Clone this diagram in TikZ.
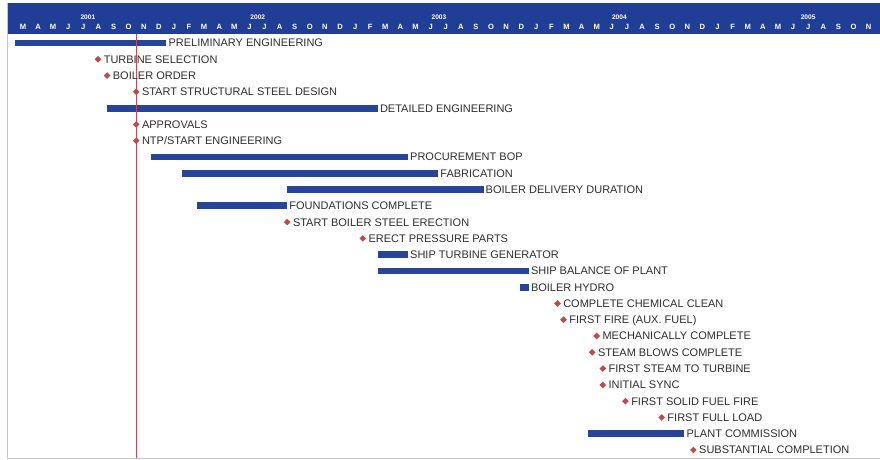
\documentclass[tikz,border=0pt]{standalone}
\usepackage{fontspec}
\setmainfont{Liberation Sans}
\usepackage{xcolor}
\usetikzlibrary{positioning,shapes.geometric}
\definecolor{hdrblue}{RGB}{32,62,150}
\definecolor{barblue}{RGB}{38,68,152}
\definecolor{msred}{RGB}{190,75,70}
\definecolor{nowred}{RGB}{205,70,85}
\definecolor{lblgray}{RGB}{45,45,45}

\begin{document}
\begin{tikzpicture}[x=1pt,y=-1pt,
  lbl/.style={anchor=west,inner sep=2pt,text=lblgray,font=\fontsize{11}{12}\selectfont,text height=7.9pt,text depth=0pt},
  ms/.style={diamond,fill=msred,inner sep=0pt,minimum size=6.8pt},
  mon/.style={text=white,font=\bfseries\fontsize{7.6}{8}\selectfont,inner sep=0pt},
  yr/.style={text=white,font=\bfseries\fontsize{6.6}{7}\selectfont,inner sep=0pt}]
  \useasboundingbox (0,0) rectangle (880,460);
  \fill[hdrblue] (7,3) rectangle (880,34);
  \draw[gray!45,line width=0.8pt] (7,3) -- (7,458) -- (880,458);
  \begin{scope}[shift={(15.4pt,-43pt)},x=15.1pt,y=-16.28pt]
    % time axis
    \foreach \y/\m in {2001/4.8,2002/16.05,2003/28.05,2004/40,2005/52.5}
      \node[yr] (y\y) at (\m,-1.6) {\y};
    \foreach \mo [count=\i from 0] in {M,A,M,J,J,A,S,O,N,D,
        J,F,M,A,M,J,J,A,S,O,N,D, J,F,M,A,M,J,J,A,S,O,N,D,
        J,F,M,A,M,J,J,A,S,O,N,D, J,F,M,A,M,J,J,A,S,O,N}
      \node[mon] (m\i) at (\i+0.5,-0.98) {\mo};
    % activities
    \foreach \a/\b/\r/\txt in {0/10/0/PRELIMINARY ENGINEERING,
        6.07/24/4/DETAILED ENGINEERING, 9/26/7/PROCUREMENT BOP,
        11/28/8/FABRICATION, 18/31/9/BOILER DELIVERY DURATION,
        12/18/10/FOUNDATIONS COMPLETE, 24/26/13/SHIP TURBINE GENERATOR,
        24/34/14/SHIP BALANCE OF PLANT, 33.4/34/15/BOILER HYDRO,
        37.9/44.3/24/PLANT COMMISSION}{
      \fill[barblue] (\a,\r-0.21) rectangle (\b,\r+0.21);
      \node[lbl] (t\r) at (\b,\r) {\txt};
    }
    % today line
    \coordinate (nowtop) at (8,-0.55);
    \coordinate (nowbot) at (8,25.49);
    \draw[nowred,line width=1.1pt] (nowtop) -- (nowbot);
    % milestones
    \foreach \a/\r/\txt in {5.47/1/TURBINE SELECTION, 6.07/2/BOILER ORDER,
        8/3/START STRUCTURAL STEEL DESIGN, 8/5/APPROVALS,
        8/6/{NTP/START ENGINEERING}, 18/11/START BOILER STEEL ERECTION,
        23/12/ERECT PRESSURE PARTS, 35.9/16/COMPLETE CHEMICAL CLEAN,
        36.3/17/FIRST FIRE (AUX. FUEL), 38.5/18/MECHANICALLY COMPLETE,
        38.2/19/STEAM BLOWS COMPLETE, 38.9/20/FIRST STEAM TO TURBINE,
        38.9/21/INITIAL SYNC, 40.4/22/FIRST SOLID FUEL FIRE,
        42.8/23/FIRST FULL LOAD, 44.9/25/SUBSTANTIAL COMPLETION}{
      \node[ms] (d\r) at (\a,\r) {};
      \node[lbl,right=0pt of d\r] (t\r) {\txt};
    }
  \end{scope}
\end{tikzpicture}
\end{document}
